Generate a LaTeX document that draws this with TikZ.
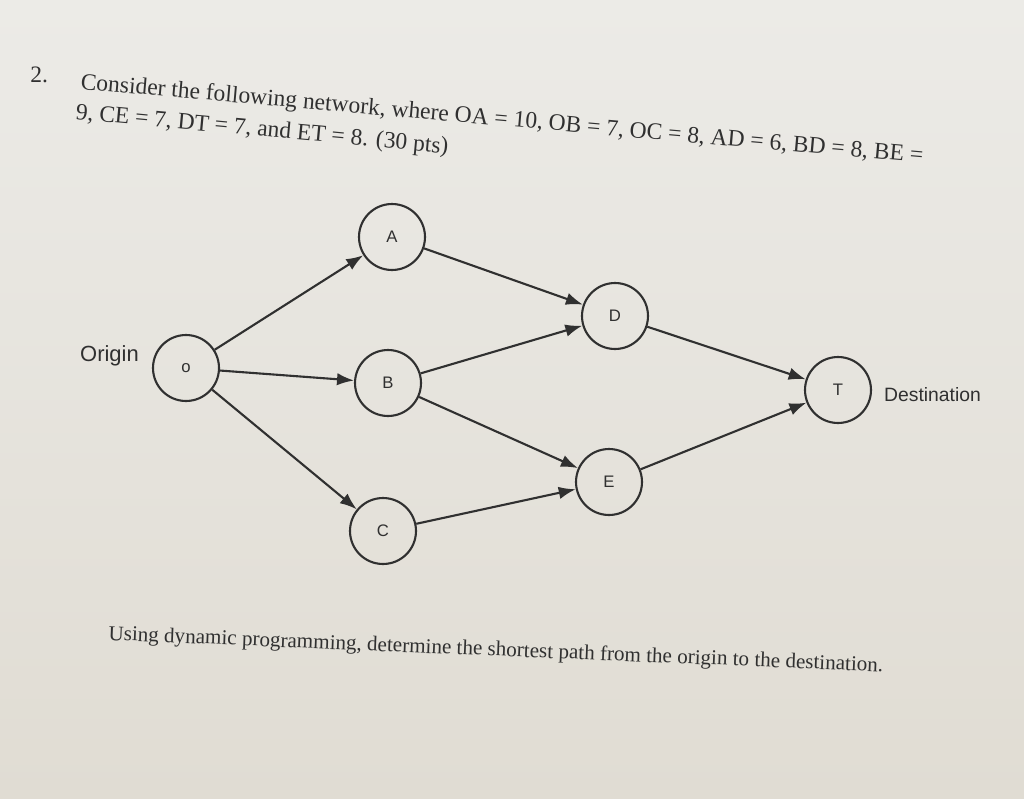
\documentclass[tikz,border=0pt]{standalone}
\usepackage{fontspec}
\setmainfont{Liberation Serif}
\newfontfamily\policeSans{Liberation Sans}
\usepackage{xcolor}
\usepackage{tikz}
\usetikzlibrary{arrows.meta}
\usetikzlibrary{positioning}
\definecolor{papierHaut}{RGB}{236,235,231}
\definecolor{papierBas}{RGB}{224,220,211}
\definecolor{encre}{RGB}{48,48,48}
\newcommand*{\Rayon}{0.66cm}
\newcommand*{\Epaisseur}{1.2pt}
\tikzset{
	sommet/.style ={draw=encre,circle,line width=\Epaisseur,minimum size=2*\Rayon,inner sep=0pt,
		text=encre,font=\policeSans\fontsize{9.5}{11}\selectfont},
	arc/.style ={draw=encre,line width=\Epaisseur,-{Latex[length=3.4mm,width=2.5mm]}},
	etiquette/.style ={text=encre,font=\policeSans\fontsize{11}{13}\selectfont},
	enonce/.style ={anchor=base west,inner sep=0pt,text=encre,font=\fontsize{13.4}{16}\selectfont}
}

\begin{document}
\begin{tikzpicture}[x=0.02cm,y=-0.02cm]
	\useasboundingbox (0,0) rectangle (1024,798);
	\shade[top color=papierHaut,bottom color=papierBas] (0,0) rectangle (1024,798);

	\node[enonce] (num) at (30,82) {2.};
	\node[enonce,rotate=-5] (ligneA) at (80,89)
		{Consider the following network, where OA = 10, OB = 7, OC = 8, AD = 6, BD = 8, BE =};
	\node[enonce,rotate=-5.3] (ligneB) at (75,119)
		{9, CE = 7, DT = 7, and ET = 8. (30 pts)};

	\node[sommet] (O) at (186,368) {o};
	\node[sommet] (A) at (392,237) {A};
	\node[sommet] (B) at (388,383) {B};
	\node[sommet] (C) at (383,531) {C};
	\node[sommet] (D) at (615,316) {D};
	\node[sommet] (E) at (609,482) {E};
	\node[sommet] (T) at (838,390) {T};

	\node[etiquette,anchor=east,font=\policeSans\fontsize{12.5}{14}\selectfont] (origine) at (145,356) {Origin};
	\node[etiquette,anchor=west] (destination) at (878,395) {Destination};

	\foreach \de/\vers in {O/A,O/B,O/C,A/D,B/D,B/E,C/E,D/T,E/T}
		\draw[arc] (\de) -- (\vers);

	\node[enonce,rotate=-2.35,font=\fontsize{12}{15}\selectfont] (question) at (108,640)
		{Using dynamic programming, determine the shortest path from the origin to the destination.};
\end{tikzpicture}
\end{document}
